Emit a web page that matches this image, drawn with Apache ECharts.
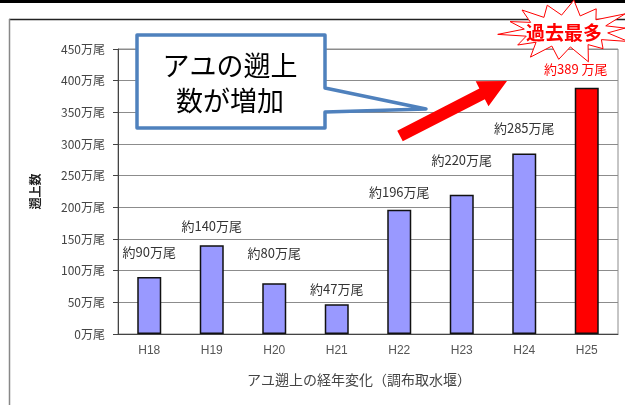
<!DOCTYPE html>
<html><head><meta charset="utf-8">
<script src="https://cdn.jsdelivr.net/npm/echarts@6/dist/echarts.min.js"></script>
<style>html,body{margin:0;padding:0;background:#fff}#c{width:625px;height:405px}</style>
</head><body><div id="c"></div>
<script>
// ---- data ----
const categories = ['H18','H19','H20','H21','H22','H23','H24','H25'];
const counts = [90, 140, 80, 47, 196, 220, 285, 389];           // 万尾
const countLabels = ['約90万尾','約140万尾','約80万尾','約47万尾','約196万尾','約220万尾','約285万尾','約389 万尾'];
const yTickUnit = '万尾';
const yMin = 0, yMax = 450, yStep = 50;
const xTitle = 'アユ遡上の経年変化（調布取水堰）';
const yTitle = '遡上数';
const calloutLines = ['アユの遡上', '数が増加'];
const badgeText = '過去最多';

// ---- styling ----
const JP = '"Noto Sans CJK JP","Noto Sans",sans-serif';
const labelRise = [18, 13, 24, 9, 11, 28, 19, 12];   // label lift above bar top (px)
const labelShift = [0, 0, 0, 0, 0, 0, 0, -11];

const seriesData = counts.map((v, i) => {
  const last = i === counts.length - 1;
  return {
    value: v,
    itemStyle: { color: last ? '#ff0000' : '#9999ff' },
    label: {
      formatter: countLabels[i],
      color: last ? '#ff0000' : '#333',
      offset: [labelShift[i], -labelRise[i]]
    }
  };
});

// arrow geometry
function arrowPts(sx, sy, tx, ty, hw, headLen, headHw) {
  const dx = tx - sx, dy = ty - sy, L = Math.hypot(dx, dy);
  const ux = dx / L, uy = dy / L, nx = -uy, ny = ux;
  const bx = tx - headLen * ux, by = ty - headLen * uy;
  return [
    [sx + hw * nx, sy + hw * ny],
    [bx + hw * nx, by + hw * ny],
    [bx + headHw * nx, by + headHw * ny],
    [tx, ty],
    [bx - headHw * nx, by - headHw * ny],
    [bx - hw * nx, by - hw * ny],
    [sx - hw * nx, sy - hw * ny]
  ];
}
// starburst geometry
function starPts(cx, cy, rxO, ryO, rxI, ryI, n) {
  const pts = [];
  const jitter = [1.0, 0.85, 1.05, 0.9, 1.0, 0.8, 1.05, 0.92, 1.0, 0.86, 1.04, 0.9, 0.95, 0.88];
  for (let i = 0; i < n * 2; i++) {
    const a = -Math.PI / 2 + i * Math.PI / n + 0.12;
    const outer = i % 2 === 0;
    const j = outer ? jitter[(i / 2) % jitter.length] : 1;
    const rx = outer ? rxO * j : rxI, ry = outer ? ryO * j : ryI;
    pts.push([cx + rx * Math.cos(a), cy + ry * Math.sin(a)]);
  }
  return pts;
}

const chart = echarts.init(document.getElementById('c'), null, { renderer: 'canvas' });
chart.setOption({
  animation: false,
  backgroundColor: '#fff',
  grid: { left: 118, right: 7, top: 49, bottom: 71, show: true, borderColor: '#8c8c8c', borderWidth: 1 },
  xAxis: {
    type: 'category',
    data: categories,
    name: xTitle,
    nameLocation: 'middle',
    nameGap: 39,
    nameTextStyle: { fontFamily: JP, fontSize: 14, color: '#444', padding: [0, 18, 0, 0] },
    axisLine: { lineStyle: { color: '#444', width: 1 } },
    axisTick: { inside: true, length: 4, lineStyle: { color: '#444' } },
    axisLabel: { fontFamily: '"Liberation Sans",sans-serif', fontSize: 12, color: '#555', margin: 11 }
  },
  yAxis: {
    type: 'value',
    min: yMin, max: yMax, interval: yStep,
    name: yTitle,
    nameLocation: 'middle',
    nameRotate: 90,
    nameGap: 77,
    nameTextStyle: { fontFamily: JP, fontSize: 12, fontWeight: 'bold', color: '#222' },
    axisLine: { show: true, lineStyle: { color: '#444', width: 1 } },
    axisTick: { show: true, length: 5, lineStyle: { color: '#444' } },
    axisLabel: { fontFamily: JP, fontSize: 12, color: '#444', margin: 13, formatter: v => v + yTickUnit },
    splitLine: { lineStyle: { color: '#8c8c8c', width: 1 } }
  },
  series: [{
    type: 'bar',
    data: seriesData,
    barWidth: 24,
    itemStyle: { borderColor: '#111', borderWidth: 1.5 },
    label: { show: true, position: 'top', distance: 0, fontFamily: JP, fontSize: 13 }
  }],
  graphic: [
    { type: 'rect', shape: { x: 0, y: 0, width: 625, height: 3 }, style: { fill: '#000' }, z: 1 },
    { type: 'line', shape: { x1: 9, y1: 19.5, x2: 625, y2: 19.5 }, style: { stroke: '#222', lineWidth: 1.5 }, z: 1 },
    { type: 'line', shape: { x1: 9.5, y1: 19, x2: 9.5, y2: 405 }, style: { stroke: '#888', lineWidth: 1.5 }, z: 1 },
    // callout
    { type: 'polygon', z: 50,
      shape: { points: [[137,35],[325,35],[325,88],[426,109],[325,112],[325,128],[137,128]] },
      style: { fill: '#fff', stroke: '#4f81bd', lineWidth: 3.5, lineJoin: 'round' } },
    { type: 'text', z: 51, x: 230, y: 66,
      style: { text: calloutLines[0], font: '27px ' + JP, fill: '#000', textAlign: 'center', textVerticalAlign: 'middle' } },
    { type: 'text', z: 51, x: 230, y: 101,
      style: { text: calloutLines[1], font: '27px ' + JP, fill: '#000', textAlign: 'center', textVerticalAlign: 'middle' } },
    // red arrow
    { type: 'polygon', z: 50, shape: { points: arrowPts(400, 136, 507, 81, 6, 28, 14) },
      style: { fill: '#ff0000' } },
    // starburst
    { type: 'polygon', z: 50, shape: { points: starPts(566, 31, 66, 31, 42, 16, 14) },
      style: { fill: '#fff', stroke: '#ff0000', lineWidth: 1 } },
    { type: 'text', z: 51, x: 564, y: 33,
      style: { text: badgeText, font: 'bold 19px ' + JP, fill: '#ff0000', textAlign: 'center', textVerticalAlign: 'middle' } }
  ]
});
</script>
</body></html>
